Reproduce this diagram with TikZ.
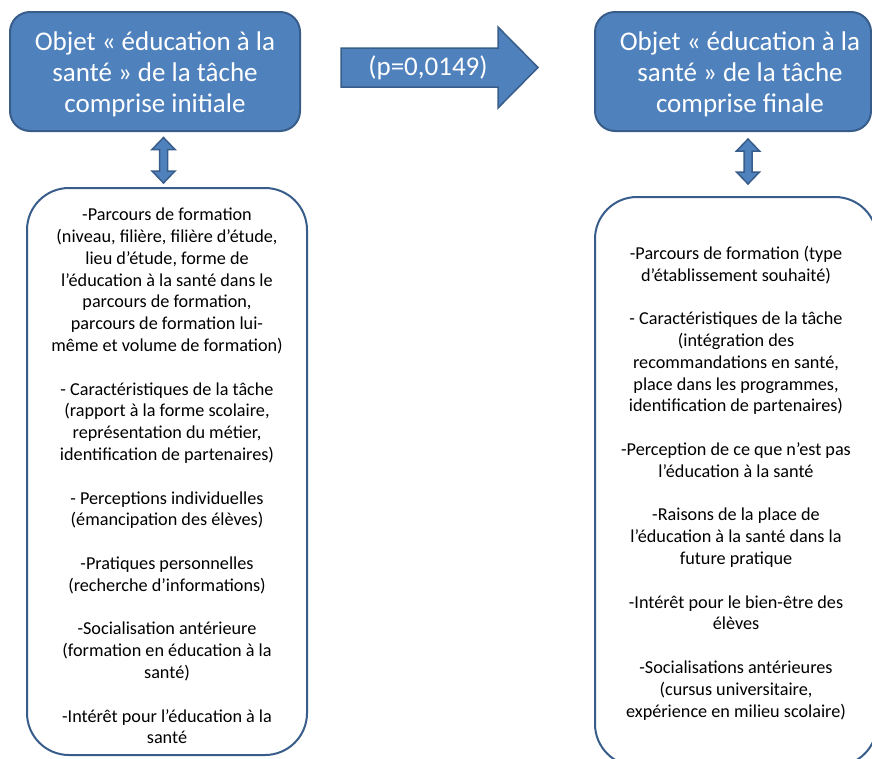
\documentclass[tikz,border=0pt]{standalone}
\usepackage{fontspec}
\setmainfont{Carlito}
\definecolor{blu}{HTML}{4F81BD}
\definecolor{blub}{HTML}{385D8A}
\tikzset{
  headbox/.style={draw=blub, line width=2pt, fill=blu, rounded corners=20pt,
    minimum width=290pt, minimum height=119pt, inner sep=0pt},
  headtxt/.style={text=white, align=center, font=\fontsize{27}{31}\selectfont},
  listbox/.style={draw=blub, line width=2pt, fill=white, rounded corners=42pt,
    minimum width=280pt, minimum height=567pt, inner sep=0pt},
  listtxt/.style={text=black, align=center, font=\fontsize{18.2}{21.8}\selectfont},
  blockarrow/.style={draw=blub, line width=1.5pt, fill=blu, line join=miter},
}
\newcommand\vdarr[3]{% x, ytop, ybottom
  \draw[blockarrow] (#1,#2) -- (#1+11.5,#2+12) -- (#1+4,#2+12) -- (#1+4,#3-12)
    -- (#1+11.5,#3-12) -- (#1,#3) -- (#1-11.5,#3-12) -- (#1-4,#3-12)
    -- (#1-4,#2+12) -- (#1-11.5,#2+12) -- cycle;}
\begin{document}
\begin{tikzpicture}[x=1pt,y=-1pt]
\useasboundingbox (0,0) rectangle (872,758);
\clip (0,0) rectangle (872,758);

% top boxes
\node[headbox] (tl) at (155,71.5) {};
\node[headtxt] (tltxt) at (155,74) {Objet « éducation à la\\santé » de la tâche\\comprise initiale};
\node[headbox, minimum width=276pt] (tr) at (733,71.5) {};
\node[headtxt] (trtxt) at (740,74) {Objet « éducation à la\\santé » de la tâche\\comprise finale};

% big arrow
\draw[blockarrow] (341,48) -- (498,48) -- (498,27) -- (538,67.5) -- (498,108)
  -- (498,87) -- (341,87) -- cycle;
\node[headtxt] (p) at (428,68) {(p=0,0149)};

% list boxes
\node[listbox] (bl) at (167,471.5) {};
\node[listbox, minimum width=282pt, minimum height=569pt] (br) at (736,481.5) {};

% double arrows
\vdarr{163.5}{137.5}{183}
\vdarr{748}{139}{184}

\node[listtxt] (bltxt) at (167,476) {%
-Parcours de formation\\
(niveau, filière, filière d’étude,\\
lieu d’étude, forme de\\
l’éducation à la santé dans le\\
parcours de formation,\\
parcours de formation lui-\\
même et volume de formation)\\[21.8pt]
- Caractéristiques de la tâche\\
(rapport à la forme scolaire,\\
représentation du métier,\\
identification de partenaires)\\[21.8pt]
- Perceptions individuelles\\
(émancipation des élèves)\\[21.8pt]
-Pratiques personnelles\\
(recherche d’informations)\\[21.8pt]
-Socialisation antérieure\\
(formation en éducation à la\\
santé)\\[21.8pt]
-Intérêt pour l’éducation à la\\
santé};

\node[listtxt] (brtxt) at (736,483) {%
-Parcours de formation (type\\
d’établissement souhaité)\\[21.8pt]
- Caractéristiques de la tâche\\
(intégration des\\
recommandations en santé,\\
place dans les programmes,\\
identification de partenaires)\\[21.8pt]
-Perception de ce que n’est pas\\
l’éducation à la santé\\[21.8pt]
-Raisons de la place de\\
l’éducation à la santé dans la\\
future pratique\\[21.8pt]
-Intérêt pour le bien-être des\\
élèves\\[21.8pt]
-Socialisations antérieures\\
(cursus universitaire,\\
expérience en milieu scolaire)};
\end{tikzpicture}
\end{document}
